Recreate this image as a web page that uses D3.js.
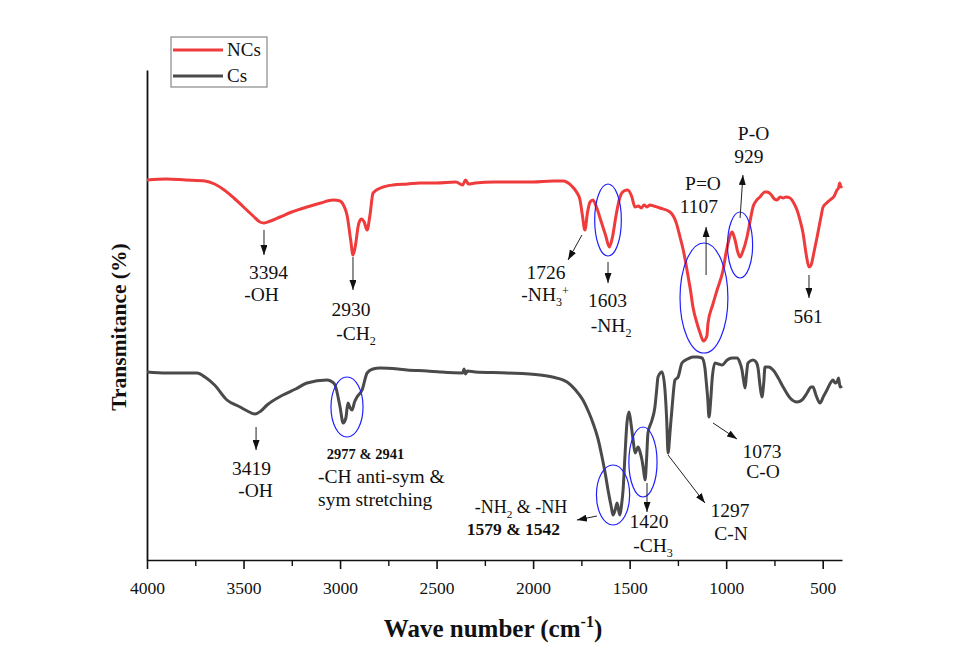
<!DOCTYPE html>
<html><head><meta charset="utf-8">
<script src="https://cdn.jsdelivr.net/npm/d3@7"></script>
<style>
body{margin:0;background:#fff}
svg{display:block}
svg text{font-family:"Liberation Serif","Times New Roman",serif !important;fill:#111}
</style>
</head><body>
<svg id="chart" width="977" height="654"></svg>
<script>
// ---------- data ----------
const ncsWave=[4000,3900,3800,3700,3650,3600,3550,3500,3450,3415,3394,3360,3311,3250,3171,3100,3036,3000,2980,2964,2945,2933,2920,2905,2890,2875,2860,2845,2829,2790,2726,2650,2586,2500,2400,2365,2350,2335,2300,2200,2100,2000,1900,1845,1800,1775,1757,1745,1732,1718,1705,1690,1670,1650,1625,1605,1590,1570,1550,1530,1510,1490,1472,1455,1440,1425,1410,1395,1375,1343,1291,1260,1239,1220,1203,1185,1172,1150,1135,1118,1100,1094,1070,1047,1016,1000,990,975,969,960,954,940,928,915,892,875,861,845,825,800,789,770,750,737,720,705,690,669,650,633,615,602,585,571,560,545,529,510,498,480,462,440,426,418,412,405,400];
const ncsT=[38.0,38.1,38.0,37.9,37.6,37.0,36.2,35.3,34.4,33.8,33.7,33.9,34.3,34.8,35.3,35.7,36.0,35.9,35.4,34.5,32.0,30.5,31.5,33.5,34.1,33.8,33.0,34.5,36.7,37.2,37.5,37.6,37.7,37.7,37.8,37.5,38.0,37.6,37.7,37.8,37.8,37.8,37.9,37.9,37.4,36.8,36.0,34.5,33.0,34.8,35.8,36.0,35.2,34.0,32.5,31.3,32.2,34.5,36.3,36.9,37.0,36.4,35.3,35.4,35.2,35.5,35.3,35.5,35.4,35.2,34.8,33.8,32.3,30.8,29.0,27.0,25.3,23.6,22.7,21.9,22.4,23.7,25.5,27.0,29.0,30.8,31.7,32.7,32.8,32.4,32.0,30.8,30.3,30.8,32.3,34.0,35.3,35.9,36.3,36.8,36.8,36.6,36.1,36.0,36.3,36.2,36.3,36.2,35.7,35.0,33.8,32.7,30.5,29.3,29.5,30.8,32.3,34.2,35.3,35.7,36.0,36.4,37.0,37.2,37.7,37.3,37.4];

const csWave=[4000,3900,3800,3741,3700,3650,3586,3518,3480,3440,3410,3378,3296,3230,3171,3068,3040,3026,3000,2984,2970,2959,2948,2938,2925,2912,2886,2860,2830,2793,2700,2653,2550,2482,2365,2358,2350,2340,2300,2135,1964,1900,1824,1780,1742,1710,1690,1665,1643,1625,1612,1595,1586,1575,1565,1555,1550,1542,1534,1524,1514,1503,1492,1482,1472,1456,1446,1436,1428,1420,1412,1405,1384,1369,1360,1353,1332,1317,1308,1301,1290,1280,1265,1249,1229,1200,1172,1150,1125,1110,1104,1095,1089,1080,1073,1058,1040,1021,995,970,944,930,918,910,902,895,887,861,845,835,825,815,805,799,780,757,730,705,669,633,607,581,560,550,535,514,495,478,460,447,435,426,418,410,400];
const csT=[18.8,18.7,18.7,18.7,18.3,17.5,16.0,15.3,14.9,14.6,14.9,15.5,16.5,17.1,17.7,18.0,17.8,17.5,15.3,13.7,14.2,15.7,15.2,15.0,15.8,16.3,17.0,18.7,19.1,19.2,19.1,19.0,18.9,18.8,18.7,19.1,18.6,18.9,18.8,18.7,18.5,18.3,17.8,17.0,16.0,14.7,13.7,12.2,10.3,8.5,7.0,5.3,4.5,5.0,5.7,4.8,4.5,5.5,7.0,10.5,13.7,14.8,13.5,12.0,10.7,11.3,10.8,10.0,9.0,8.0,10.2,12.7,14.0,15.3,17.0,18.3,18.8,17.0,14.0,10.7,13.0,15.3,18.0,18.3,19.7,20.1,20.3,20.3,20.2,19.2,18.0,16.0,14.3,16.0,18.0,19.7,19.6,19.5,20.0,20.2,20.2,19.8,19.0,18.0,17.2,18.5,19.7,20.0,19.8,19.2,17.5,16.3,17.8,19.3,19.3,19.0,18.2,17.3,16.2,15.8,16.0,16.7,17.3,17.3,16.5,15.7,16.4,17.0,17.7,18.0,17.7,17.8,18.2,17.3,17.4];

const seriesNames=["NCs","Cs"];
const majorTicks=[4000,3500,3000,2500,2000,1500,1000,500];
const minorTicks=[3750,3250,2750,2250,1750,1250,750];
const xTitle="Wave number (cm";
const xTitleSup="-1";
const yTitle="Transmitance (%)";

// annotation texts: wave, value, label ("_x" subscript, "^x" superscript), bold, anchor
const labelText=["3394","-OH","2930","-CH_2","1726","-NH_3^+","1603","-NH_2","P=O","1107","P-O","929","561",
 "3419","-OH","2977 & 2941","-CH anti-sym &","sym stretching","-NH_2 & -NH","1579 & 1542","1420","-CH_3","1297","C-N","1073","C-O"];
const labelWave=[3371,3407,2943,2917,1933,1938,1615,1596,1120,1141,858,882,576,
 3459,3438,2868,3114,3114,2063,2102,1400,1379,980,975,814,809];
const labelValue=[28.1,25.9,24.4,22.0,28.1,25.9,25.3,22.8,37.0,34.7,42.0,39.7,23.7,
 8.5,6.3,10.1,7.7,5.4,4.7,2.5,3.2,0.8,4.3,2.0,10.2,8.2];
const labelBold=[0,0,0,0,0,0,0,0,0,0,0,0,0, 0,0,1,0,0,0,1,0,0,0,0,0,0];
const labelAlign=["m","m","m","m","m","m","m","m","m","m","m","m","m","m","m","m","s","s","m","m","m","m","m","m","m","m"];

// arrows: from (wave,value) to (wave,value)
const arrowFromW=[3394,2933,1747,1612,1104,928,571, 3435,1669,1410,1301,1068];
const arrowFromV=[33.0,30.3,32.5,29.8,28.5,34.2,28.5, 13.3,4.4,7.7,10.5,13.7];
const arrowToW  =[3394,2933,1819,1612,1104,913,571, 3435,1773,1410,1110,944];
const arrowToV  =[30.5,27.0,30.0,27.7,33.3,38.5,26.2, 11.0,4.0,4.8,5.7,12.1];

// blue ellipses: centre (wave,value), half-width in wave units, half-height in value units
const ellW=[1612,1115,928,2964,1586,1431];
const ellV=[34.0,26.2,31.5,15.3,6.5,9.8];
const ellRW=[69,124,65,83,86,73];
const ellRV=[3.6,5.5,3.3,3.0,3.0,3.5];

// ---------- chart ----------
const svg=d3.select("#chart");
const x=d3.scaleLinear().domain([4000,400]).range([147,842]);
const y=d3.scaleLinear().domain([0,49]).range([560,70]);
const colors=["#ef3b3b","#4a4a4a"];
const serif='"Liberation Serif","Times New Roman",serif';

svg.append("defs").append("marker")
  .attr("id","ah").attr("viewBox","0 0 10 7").attr("refX",10).attr("refY",3.5)
  .attr("markerWidth",10).attr("markerHeight",7).attr("markerUnits","userSpaceOnUse")
  .attr("orient","auto")
  .append("path").attr("d","M0,0 L10,3.5 L0,7 Z").attr("fill","#111");

// axes
const gx=svg.append("g").attr("transform","translate(0,560)")
  .call(d3.axisBottom(x).tickValues(majorTicks).tickSize(9).tickSizeOuter(0).tickPadding(13).tickFormat(d3.format("d")));
gx.attr("font-family",null).attr("font-size",null);
gx.select(".domain").attr("stroke","#111").attr("stroke-width",1.6);
gx.selectAll(".tick line").attr("stroke","#111").attr("stroke-width",1.6);
gx.selectAll(".tick text").style("font-size","17.5px").style("font-family",serif).attr("fill","#111");
const gm=svg.append("g").attr("transform","translate(0,560)")
  .call(d3.axisBottom(x).tickValues(minorTicks).tickSize(6).tickFormat(""));
gm.select(".domain").remove();
gm.selectAll(".tick line").attr("stroke","#111").attr("stroke-width",1.4);
const gy=svg.append("g").attr("transform","translate(147,0)")
  .call(d3.axisLeft(y).tickValues([]).tickSizeOuter(0));
gy.select(".domain").attr("stroke","#111").attr("stroke-width",1.8);

// curves
const line=d3.line().x(d=>x(d[0])).y(d=>y(d[1])).curve(d3.curveMonotoneX);
const series=[d3.zip(ncsWave,ncsT), d3.zip(csWave,csT)];
series.forEach((s,i)=>{
  svg.append("path").datum(s).attr("d",line).attr("fill","none")
    .attr("stroke",colors[i]).attr("stroke-width",3).attr("stroke-linejoin","round");
});

// ellipses
svg.append("g").selectAll("ellipse").data(d3.range(ellW.length)).join("ellipse")
  .attr("cx",i=>x(ellW[i])).attr("cy",i=>y(ellV[i]))
  .attr("rx",i=>Math.abs(x(ellW[i]+ellRW[i])-x(ellW[i])))
  .attr("ry",i=>Math.abs(y(ellV[i]+ellRV[i])-y(ellV[i])))
  .attr("fill","none").attr("stroke","#1f1fff").attr("stroke-width",1.2);

// arrows
svg.append("g").selectAll("line").data(d3.range(arrowFromW.length)).join("line")
  .attr("x1",i=>x(arrowFromW[i])).attr("y1",i=>y(arrowFromV[i]))
  .attr("x2",i=>x(arrowToW[i])).attr("y2",i=>y(arrowToV[i]))
  .attr("stroke","#222").attr("stroke-width",1).attr("marker-end","url(#ah)");

// labels
function addRich(t,str,fs){
  const re=/([_^])(\{[^}]*\}|.)|([^_^]+)/g; let m;
  let shift=0;
  while((m=re.exec(str))){
    if(m[3]){
      t.append("tspan").text(m[3]).attr("dy",-shift).attr("font-size",fs); shift=0;
    } else {
      const s=m[2].replace(/[{}]/g,"");
      const d=m[1]==="_"?fs*0.25:-fs*0.33;
      t.append("tspan").text(s).attr("dy",(d-shift)).attr("font-size",fs*0.62); shift=d;
    }
  }
}
function labelSize(i){
  if(labelBold[i]) return i===15?14.5:17.5;
  if(i===18) return 18;
  return 19.5;
}
const lg=svg.append("g");
labelText.forEach((s,i)=>{
  const fs=labelSize(i);
  const t=lg.append("text").attr("x",x(labelWave[i])).attr("y",y(labelValue[i]))
    .attr("text-anchor",labelAlign[i]==="s"?"start":"middle")
    .attr("font-weight",labelBold[i]?"bold":"normal").attr("font-size",fs);
  addRich(t,s,fs);
});

// axis titles
const xt=svg.append("text").attr("x",493).attr("y",637).attr("text-anchor","middle")
  .attr("font-weight","bold").attr("font-size",25);
xt.append("tspan").text(xTitle);
xt.append("tspan").text(xTitleSup).attr("font-size",16).attr("dy",-10);
xt.append("tspan").text(")").attr("dy",10);
svg.append("text").attr("transform","translate(126,327) rotate(-90)").attr("text-anchor","middle")
  .attr("font-weight","bold").attr("font-size",21.5).text(yTitle);

// legend
const leg=svg.append("g");
leg.append("rect").attr("x",171).attr("y",37).attr("width",96).attr("height",50)
  .attr("fill","#fff").attr("stroke","#888").attr("stroke-width",1.2);
seriesNames.forEach((n,i)=>{
  const yy=50+i*26;
  leg.append("line").attr("x1",173).attr("x2",223).attr("y1",yy).attr("y2",yy)
    .attr("stroke",colors[i]).attr("stroke-width",3);
  leg.append("text").attr("x",227).attr("y",yy+6).attr("font-size",19).text(n);
});
</script>
</body></html>
